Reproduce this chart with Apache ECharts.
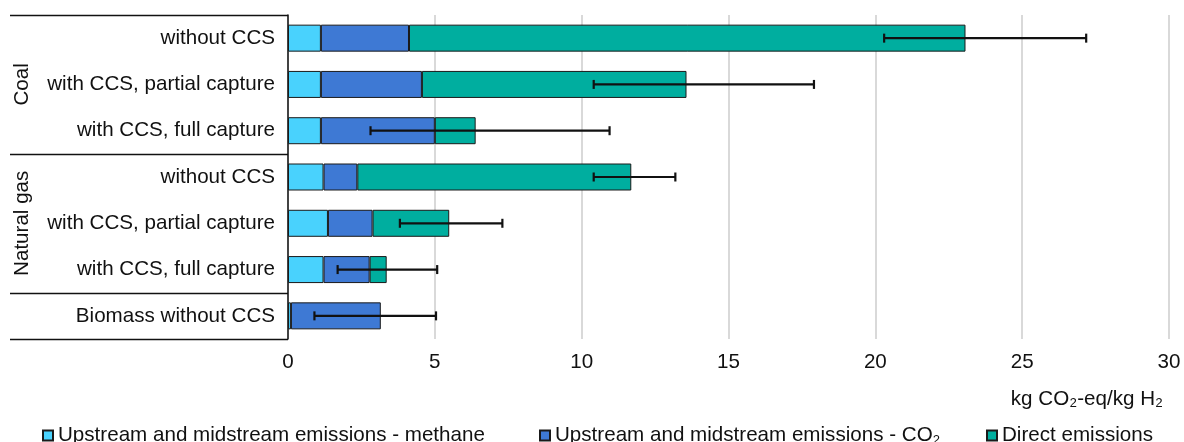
<!DOCTYPE html>
<html>
<head>
<meta charset="utf-8">
<script src="https://cdn.jsdelivr.net/npm/echarts@6/dist/echarts.min.js"></script>
<style>
html,body{margin:0;padding:0;background:#fff;}
#chart{width:1184px;height:442px;}
</style>
</head>
<body>
<div id="chart"></div>
<script>
// ---- data ----
const groups = ['Coal', 'Natural gas', ''];
const groupOf = [0, 0, 0, 1, 1, 1, 2];
const categories = ['without CCS', 'with CCS, partial capture', 'with CCS, full capture',
                    'without CCS', 'with CCS, partial capture', 'with CCS, full capture',
                    'Biomass without CCS'];
const seriesNames = ['Upstream and midstream emissions - methane',
                     'Upstream and midstream emissions - CO2',
                     'Direct emissions'];
const methane = [1.12, 1.12, 1.12, 1.21, 1.36, 1.21, 0.10];
const upstreamCO2 = [3.00, 3.44, 3.88, 1.15, 1.52, 1.57, 3.06];
const direct = [18.95, 9.01, 1.39, 9.33, 2.61, 0.58, null];
const errLow = [20.3, 10.41, 2.81, 10.41, 3.81, 1.69, 0.90];
const errHigh = [27.18, 17.91, 10.95, 13.19, 7.30, 5.08, 5.04];
const xTicks = [0, 5, 10, 15, 20, 25, 30];
const axisTitle = 'kg CO\u2082-eq/kg H\u2082';

// ---- chart ----
const keys = categories.map((c, i) => i + '|' + c);
const colors = ['#49D2FD', '#3E79D4', '#00AE9F'];
const FONT = '"Liberation Sans", Arial, sans-serif';
const FS = 20.6;
const chart = echarts.init(document.getElementById('chart'), null, {renderer: 'canvas'});

function barSeries(name, data, color) {
  return {
    name: name, type: 'bar', stack: 'total', data: data, barWidth: 27,
    itemStyle: {color: color, borderColor: '#1a1a1a', borderWidth: 1},
    emphasis: {disabled: true}, animation: false
  };
}

const legendLefts = [37, 534, 981];
const option = {
  animation: false,
  textStyle: {fontFamily: FONT},
  grid: {left: 288, right: 15, top: 15, bottom: 103, containLabel: false},
  title: {
    text: axisTitle, right: 16, top: 384,
    textStyle: {fontFamily: FONT, fontSize: FS, fontWeight: 'normal', color: '#111'}
  },
  legend: seriesNames.map((n, i) => ({
    data: [n], left: legendLefts[i], top: 420, itemWidth: 10, itemHeight: 10, itemGap: 5,
    icon: 'rect', selectedMode: false,
    formatter: function (s) { return s.endsWith('CO2') ? s.slice(0, -1) + '{sub|2}' : s; },
    textStyle: {
      fontFamily: FONT, fontSize: FS, color: '#111',
      rich: {sub: {fontFamily: FONT, fontSize: 13, color: '#111', padding: [9, 0, 0, 0]}}
    }
  })),
  xAxis: {
    type: 'value', min: xTicks[0], max: xTicks[xTicks.length - 1], interval: xTicks[1] - xTicks[0],
    axisLine: {show: false}, axisTick: {show: false},
    axisLabel: {fontFamily: FONT, fontSize: FS, color: '#111', margin: 13,
      showMinLabel: true, showMaxLabel: true},
    splitLine: {show: true, lineStyle: {color: '#d9d9d9', width: 2}}
  },
  yAxis: {
    type: 'category', data: keys, inverse: true,
    axisLine: {show: true, lineStyle: {color: '#111', width: 1.5}},
    axisTick: {show: false},
    axisLabel: {fontFamily: FONT, fontSize: FS, color: '#111', margin: 13,
      formatter: function (v) { return v.split('|')[1]; }}
  },
  series: [
    barSeries(seriesNames[0], methane, colors[0]),
    barSeries(seriesNames[1], upstreamCO2, colors[1]),
    barSeries(seriesNames[2], direct, colors[2]),
    {
      type: 'custom', name: 'err', silent: true, z: 10,
      data: errLow.map((lo, i) => [lo, errHigh[i], i]),
      encode: {x: [0, 1], y: 2},
      renderItem: function (params, api) {
        const a = api.coord([api.value(0), api.value(2)]);
        const b = api.coord([api.value(1), api.value(2)]);
        const h = 4.5;
        const st = {stroke: '#111', lineWidth: 2.2};
        return {type: 'group', children: [
          {type: 'line', shape: {x1: a[0], y1: a[1], x2: b[0], y2: b[1]}, style: st},
          {type: 'line', shape: {x1: a[0], y1: a[1] - h, x2: a[0], y2: a[1] + h}, style: st},
          {type: 'line', shape: {x1: b[0], y1: b[1] - h, x2: b[0], y2: b[1] + h}, style: st}
        ]};
      }
    }
  ]
};
chart.setOption(option);

// ---- table lines and group labels, placed from the axis scale ----
function yOf(i) { return chart.convertToPixel({yAxisIndex: 0}, keys[i]); }
const band = yOf(1) - yOf(0);
const axisX = chart.convertToPixel({xAxisIndex: 0}, 0);
const elems = [];
const boundaries = [0];
for (let i = 1; i < categories.length; i++) if (groupOf[i] !== groupOf[i - 1]) boundaries.push(i);
boundaries.push(categories.length);
boundaries.forEach(function (b) {
  const y = Math.round(yOf(0) - band / 2 + b * band) + 0.5;
  elems.push({type: 'line', silent: true,
    shape: {x1: 10, y1: y, x2: axisX, y2: y}, style: {stroke: '#111', lineWidth: 1.5}});
});
groups.forEach(function (g, gi) {
  if (!g) return;
  const idx = groupOf.map((v, i) => v === gi ? i : -1).filter(i => i >= 0);
  const yc = (yOf(idx[0]) + yOf(idx[idx.length - 1])) / 2;
  elems.push({type: 'text', silent: true, x: 22, y: yc, rotation: Math.PI / 2,
    style: {text: g, fontFamily: FONT, fontSize: FS, fill: '#111', align: 'center', verticalAlign: 'middle'}});
});
chart.setOption({graphic: {elements: elems}});
</script>
</body>
</html>
